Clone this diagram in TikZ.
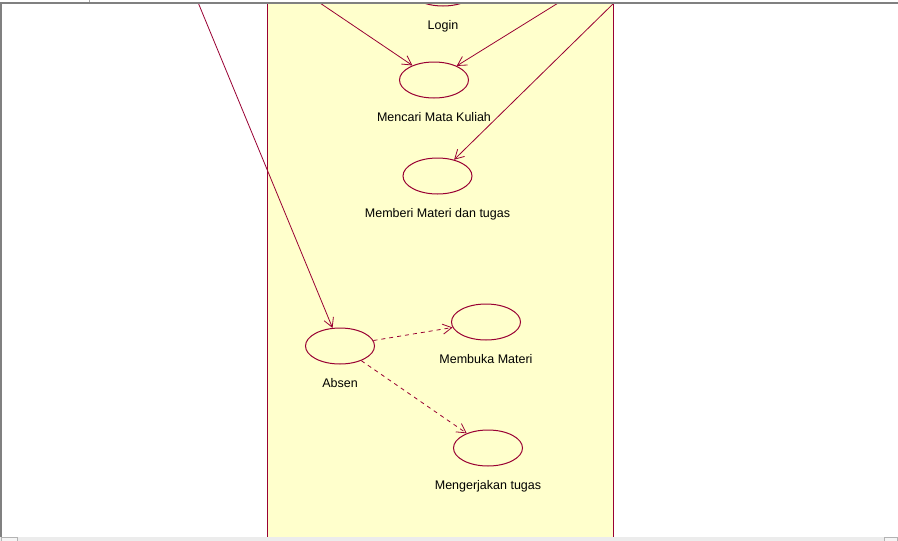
\documentclass[tikz,border=0pt]{standalone}
\usepackage{fontspec}
\setmainfont{Liberation Sans}
\usetikzlibrary{arrows.meta,shapes.geometric}
\definecolor{RoseRed}{HTML}{990033}
\definecolor{RoseYellow}{HTML}{FFFFCC}
\definecolor{RoseGray}{HTML}{808080}
\tikzset{
  usecase/.style={ellipse,draw=RoseRed,line width=1pt,minimum width=69pt,minimum height=36pt,inner sep=0pt},
  uclabel/.style={font=\fontsize{12.5}{14}\selectfont,text height=9pt,text depth=0pt,inner sep=0pt,label distance=13.5pt},
  assoc/.style={RoseRed,line width=0.8pt,-{Straight Barb[length=9pt,width=10pt]}},
  dep/.style={assoc,dash pattern=on 4pt off 4pt}
}

\begin{document}
\begin{tikzpicture}[x=1pt,y=-1pt]
\useasboundingbox (0,0) rectangle (898,541);
\fill[white] (0,0) rectangle (898,541);
\begin{scope}
\clip (1.5,4) rectangle (898,536.5);
\fill[RoseYellow] (267,0) rectangle (613,541);
\draw[RoseRed,line width=1.2pt] (267.5,0) -- (267.5,541) (613.5,0) -- (613.5,541);
\node[usecase,label={[uclabel]below:Login}] (login) at (443,-12) {};
\node[usecase,label={[uclabel]below:Mencari Mata Kuliah}] (mencari) at (434,80) {};
\node[usecase,label={[uclabel]below:Memberi Materi dan tugas}] (memberi) at (437.5,176) {};
\node[usecase,label={[uclabel]below:Absen}] (absen) at (340,346) {};
\node[usecase,label={[uclabel]below:Membuka Materi}] (membuka) at (486,322) {};
\node[usecase,label={[uclabel]below:Mengerjakan tugas}] (kerjakan) at (488,448) {};
\coordinate (mhs) at (195.8,-3);
\coordinate (dosenA) at (315.5,0);
\coordinate (dosenB) at (563,0);
\coordinate (dosenC) at (617,0);
\draw[assoc] (dosenA) -- (mencari);
\draw[assoc] (dosenB) -- (mencari);
\draw[assoc] (dosenC) -- (memberi);
\draw[assoc] (mhs) -- (absen);
\draw[dep] (absen) -- (membuka);
\draw[dep] (absen) -- (kerjakan);
\end{scope}
\draw[RoseGray,line width=2pt] (0,3) -- (898,3);
\draw[RoseGray!70,line width=1pt] (89,0) -- (89,2);
\draw[RoseGray,line width=1.5pt] (0.75,3) -- (0.75,537);
\fill[RoseGray!15] (0,537) rectangle (898,541);
\draw[RoseGray!60,fill=RoseGray!8] (1.5,537.5) rectangle (17,541);
\draw[RoseGray!60,fill=RoseGray!8] (884,537.5) rectangle (897,541);
\end{tikzpicture}
\end{document}
